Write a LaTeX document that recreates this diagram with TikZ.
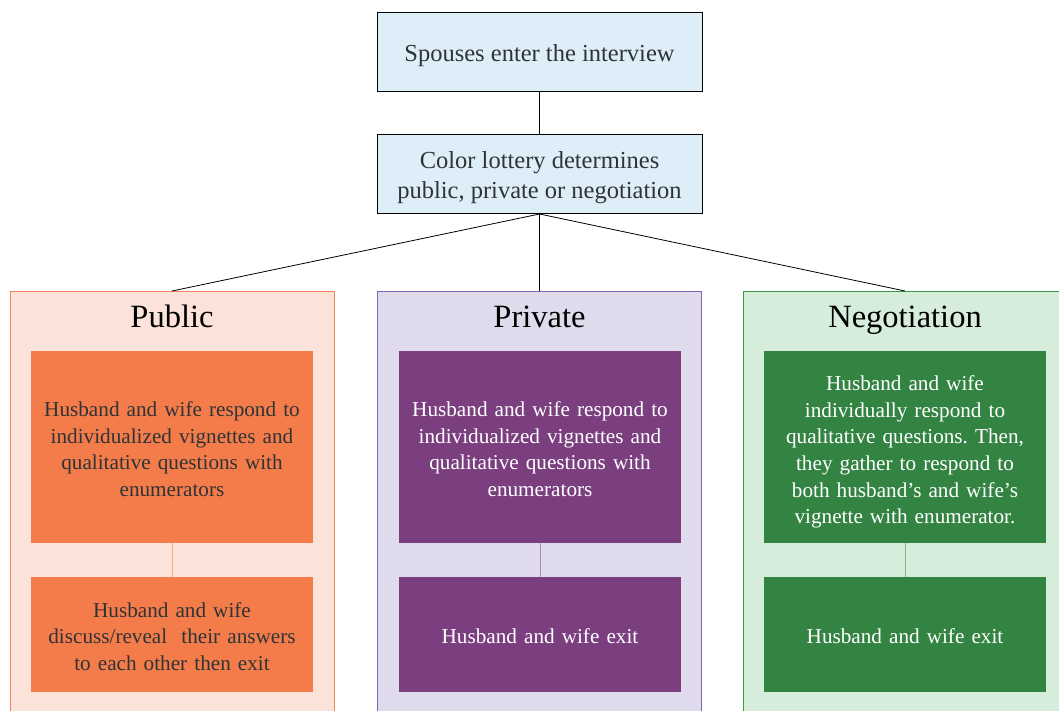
\documentclass[tikz,border=0pt]{standalone}
\usepackage{fontspec}
\setmainfont{Liberation Serif}
\frenchspacing
\definecolor{topfill}{HTML}{DEEEF9}
\definecolor{pubfill}{HTML}{FCE3DA}
\definecolor{pubedge}{HTML}{F4845A}
\definecolor{pubbox}{HTML}{F47C4A}
\definecolor{privfill}{HTML}{DFDBEC}
\definecolor{privedge}{HTML}{7E63BE}
\definecolor{privbox}{HTML}{7B3F80}
\definecolor{negfill}{HTML}{D5EDDA}
\definecolor{negedge}{HTML}{3A9A4A}
\definecolor{negbox}{HTML}{338442}
\definecolor{txt}{HTML}{2E3436}
\begin{document}
\begin{tikzpicture}[x=1pt,y=-1pt,
  topbox/.style={draw=black,fill=topfill,line width=1pt,minimum width=325pt,minimum height=79pt,inner sep=0pt},
  toptext/.style={text=txt,align=center,font=\fontsize{24.5}{30.5}\selectfont,inner sep=0pt},
  panel/.style={line width=1pt,minimum width=324pt,minimum height=440pt,anchor=north,inner sep=0pt},
  title/.style={font=\fontsize{32.5}{36}\selectfont,text=black,anchor=base},
  inbox/.style={minimum width=282pt,inner sep=0pt},
  intext/.style={align=center,font=\fontsize{21.2}{26.6}\selectfont,inner sep=0pt,text width=276pt},
  link/.style={line width=0.8pt}
]
\useasboundingbox (0,0) rectangle (1059,711);
\clip (0,0) rectangle (1059,711);
\node[topbox] (enter) at (539.5,52.5) {};
\node[toptext,yshift=-3pt] (enterT) at (enter.center) {Spouses enter the interview};
\node[topbox] (lottery) at (539.5,174) {};
\node[toptext,yshift=-3.5pt] (lotteryT) at (lottery.center) {Color lottery determines\\public, private or negotiation};
\node[panel,draw=pubedge,fill=pubfill] (pub) at (172,291) {};
\node[panel,draw=privedge,fill=privfill] (priv) at (539.5,291) {};
\node[panel,draw=negedge,fill=negfill] (neg) at (905,291) {};
\draw[link] (enter.south) -- (lottery.north);
\draw[link] (lottery.south) -- (pub.north);
\draw[link] (lottery.south) -- (priv.north);
\draw[link] (lottery.south) -- (neg.north);
\node[title] (pubt) at (172,327) {Public};
\node[title] (privt) at (539.5,327) {Private};
\node[title] (negt) at (905,327) {Negotiation};
% Public
\node[inbox,fill=pubbox,minimum height=192pt] (pub1) at (172,447) {};
\node[intext,text=txt,yshift=-2pt] (pub1T) at (pub1.center) {Husband and wife respond to\\individualized vignettes and\\qualitative questions with\\enumerators};
\node[inbox,fill=pubbox,minimum height=115pt] (pub2) at (172,634.5) {};
\node[intext,text=txt,yshift=-2pt] (pub2T) at (pub2.center) {Husband and wife\\discuss/reveal\ \ their answers\\to each other then exit};
\draw[link,draw=pubedge!70] (pub1.south) -- (pub2.north);
% Private
\node[inbox,fill=privbox,minimum height=192pt] (priv1) at (540,447) {};
\node[intext,text=white,yshift=-2pt] (priv1T) at (priv1.center) {Husband and wife respond to\\individualized vignettes and\\qualitative questions with\\enumerators};
\node[inbox,fill=privbox,minimum height=115pt] (priv2) at (540,634.5) {};
\node[intext,text=white,yshift=-2pt] (priv2T) at (priv2.center) {Husband and wife exit};
\draw[link,draw=privbox!60] (priv1.south) -- (priv2.north);
% Negotiation
\node[inbox,fill=negbox,minimum height=192pt] (neg1) at (905,447) {};
\node[intext,text=white,yshift=-5pt] (neg1T) at (neg1.center) {Husband and wife\\individually respond to\\qualitative questions. Then,\\they gather to respond to\\both husband’s and wife’s\\vignette with enumerator.};
\node[inbox,fill=negbox,minimum height=115pt] (neg2) at (905,634.5) {};
\node[intext,text=white,yshift=-2pt] (neg2T) at (neg2.center) {Husband and wife exit};
\draw[link,draw=negbox!60] (neg1.south) -- (neg2.north);
\end{tikzpicture}
\end{document}
